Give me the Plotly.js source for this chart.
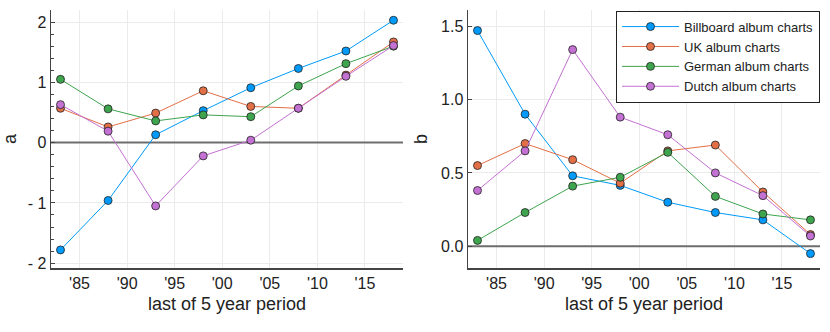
<!DOCTYPE html>
<html>
<head>
<meta charset="utf-8">
<script src="https://cdn.plot.ly/plotly-3.0.1.min.js"></script>
<style>
  html, body { margin: 0; padding: 0; background: #fff; }
  #chart { width: 830px; height: 332px; }
</style>
</head>
<body>
<div id="chart"></div>
<script>
// last year of each 5 year period
const years = [1983, 1988, 1993, 1998, 2003, 2008, 2013, 2018];
const seriesNames = ['Billboard album charts', 'UK album charts', 'German album charts', 'Dutch album charts'];
const colors = ['#009AFA', '#E36F47', '#3EA44E', '#C371D2'];

// panel a
const aBillboard = [-1.78, -0.96, 0.13, 0.53, 0.91, 1.23, 1.52, 2.03];
const aUK        = [0.57, 0.26, 0.49, 0.86, 0.60, 0.57, 1.12, 1.67];
const aGerman    = [1.05, 0.56, 0.36, 0.46, 0.43, 0.94, 1.31, 1.60];
const aDutch     = [0.63, 0.19, -1.05, -0.22, 0.04, 0.57, 1.10, 1.61];

// panel b
const bBillboard = [1.47, 0.90, 0.48, 0.415, 0.30, 0.23, 0.18, -0.05];
const bUK        = [0.55, 0.70, 0.59, 0.43, 0.65, 0.69, 0.37, 0.08];
const bGerman    = [0.04, 0.23, 0.41, 0.47, 0.64, 0.34, 0.22, 0.18];
const bDutch     = [0.38, 0.65, 1.34, 0.88, 0.76, 0.50, 0.345, 0.07];

const xTickVals = [1985, 1990, 1995, 2000, 2005, 2010, 2015];
const xTickText = ["'85", "'90", "'95", "'00", "'05", "'10", "'15"];
const aTickVals = [-2, -1, 0, 1, 2];
const aTickText = ['- 2', '- 1', '0', '1', '2'];
const bTickVals = [0, 0.5, 1.0, 1.5];
const bTickText = ['0.0', '0.5', '1.0', '1.5'];

const aSeries = [aBillboard, aUK, aGerman, aDutch];
const bSeries = [bBillboard, bUK, bGerman, bDutch];

const FONT = '"Liberation Sans", Arial, sans-serif';

const traces = [];

// zero lines
[['x', 'y'], ['x2', 'y2']].forEach(([xa, ya]) => {
  traces.push({
    x: [1982, 2019], y: [0, 0], xaxis: xa, yaxis: ya,
    type: 'scatter', mode: 'lines', showlegend: false, hoverinfo: 'skip',
    line: { color: '#6e6e6e', width: 2 },
  });
});

aSeries.forEach((vals, i) => {
  traces.push({
    x: years, y: vals, xaxis: 'x', yaxis: 'y',
    type: 'scatter', mode: 'lines+markers', name: seriesNames[i], showlegend: false,
    line: { color: colors[i], width: 1 },
    marker: { color: colors[i], size: 8, line: { color: '#222', width: 0.8 } },
  });
});

bSeries.forEach((vals, i) => {
  traces.push({
    x: years, y: vals, xaxis: 'x2', yaxis: 'y2',
    type: 'scatter', mode: 'lines+markers', name: seriesNames[i],
    line: { color: colors[i], width: 1 },
    marker: { color: colors[i], size: 8, line: { color: '#222', width: 0.8 } },
  });
});

const xCommon = {
  range: [1982, 2019],
  tickvals: xTickVals, ticktext: xTickText,
  showgrid: true, gridcolor: '#ebebeb', gridwidth: 1,
  zeroline: false, showline: true, linecolor: '#444', linewidth: 1.5,
  ticks: '', tickfont: { size: 16, color: '#222' },
  title: { text: 'last of 5 year period', font: { size: 18, color: '#222' }, standoff: 6 },
};

const yCommon = {
  showgrid: true, gridcolor: '#ebebeb', gridwidth: 1,
  zeroline: false, showline: true, linecolor: '#444', linewidth: 1.5,
  ticks: 'inside', ticklen: 4, tickcolor: '#444',
  tickfont: { size: 16, color: '#222' },
};

const layout = {
  width: 830, height: 332,
  margin: { l: 0, r: 0, t: 0, b: 0 },
  paper_bgcolor: '#fff', plot_bgcolor: '#fff',
  font: { family: FONT, color: '#222' },
  showlegend: true,
  legend: {
    x: 616 / 830, xanchor: 'left', y: 0.968, yanchor: 'top',
    bgcolor: '#fff', bordercolor: '#222', borderwidth: 1,
    font: { size: 13, color: '#222' },
    itemwidth: 57,
    tracegroupgap: 0,
  },
  xaxis: Object.assign({}, xCommon, { domain: [51 / 830, 403 / 830], anchor: 'y' }),
  xaxis2: Object.assign({}, xCommon, { domain: [468 / 830, 820 / 830], anchor: 'y2' }),
  yaxis: Object.assign({}, yCommon, {
    domain: [1 - 268 / 332, 1 - 10 / 332], anchor: 'x',
    range: [-2.08, 2.2], tickvals: aTickVals, ticktext: aTickText,
    minor: { dtick: 0.2, ticks: 'inside', ticklen: 3, tickcolor: '#444', showgrid: false },
    title: { text: 'a', font: { size: 18, color: '#222' }, standoff: 14 },
  }),
  yaxis2: Object.assign({}, yCommon, {
    domain: [1 - 268 / 332, 1 - 10 / 332], anchor: 'x2',
    range: [-0.148, 1.61], tickvals: bTickVals, ticktext: bTickText,
    title: { text: 'b', font: { size: 18, color: '#222' }, standoff: 8 },
  }),
};

Plotly.newPlot('chart', traces, layout, { staticPlot: true, displayModeBar: false });
</script>
</body>
</html>
